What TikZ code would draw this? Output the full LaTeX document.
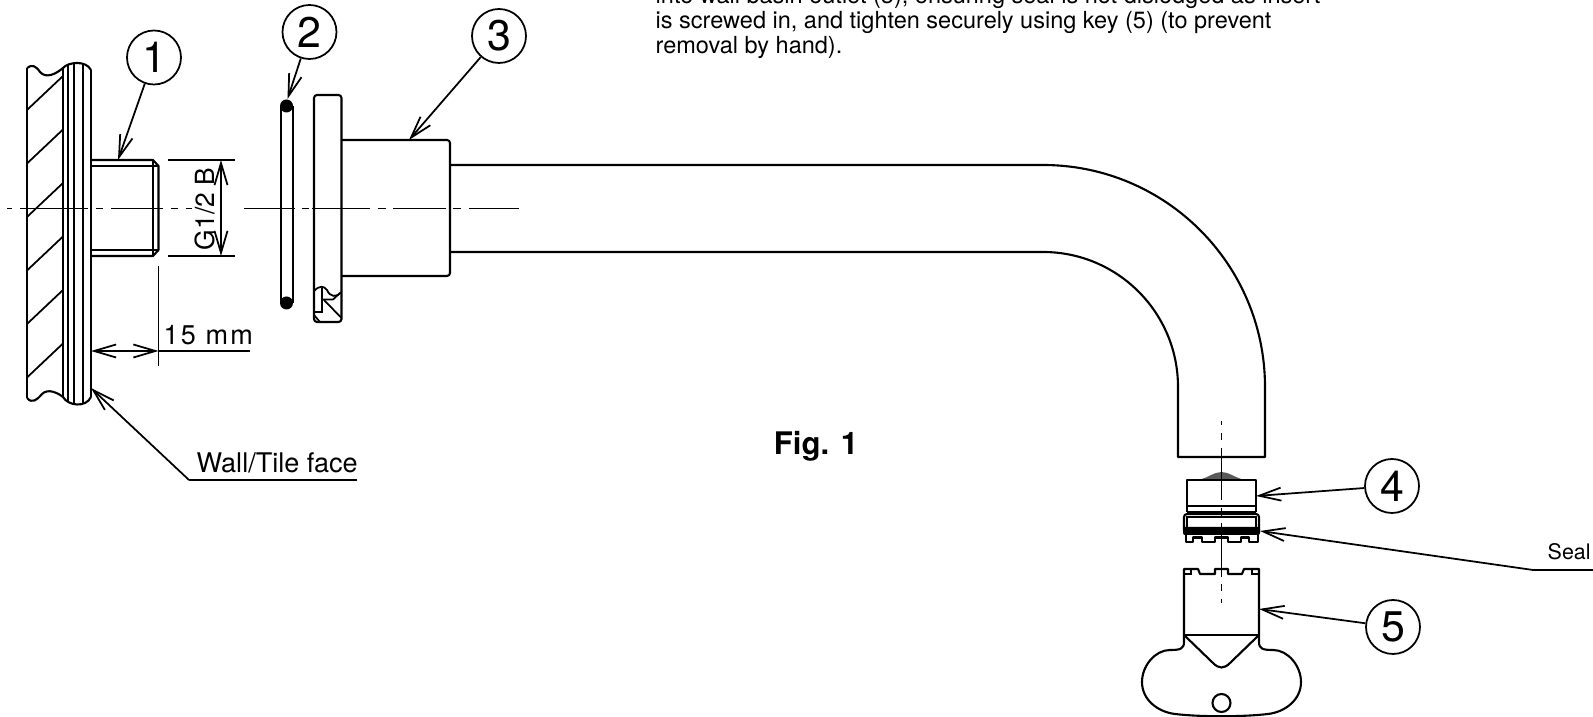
\documentclass[tikz,border=0pt]{standalone}
\usepackage{fontspec}
\setmainfont{TeX Gyre Heros}
\usetikzlibrary{arrows.meta}
\tikzset{
  part/.style={line width=0.6pt,line join=round},
  thin part/.style={line width=0.5pt},
  balloon/.style={draw,circle,line width=0.5pt,minimum size=0.54cm,inner sep=0pt,font=\fontsize{12.2}{14}\selectfont},
  leader/.style={line width=0.5pt,-{Straight Barb[length=0.22cm,width=0.13cm]}},
  dimline/.style={line width=0.5pt,{Straight Barb[length=0.22cm,width=0.13cm]}-{Straight Barb[length=0.22cm,width=0.13cm]}},
  axis/.style={line width=0.5pt},
  small label/.style={inner sep=0pt,font=\fontsize{7.7}{9}\selectfont},
  note text/.style={inner sep=0pt,anchor=base west,font=\fontsize{6.69}{8}\selectfont}
}
\begin{document}
\begin{tikzpicture}
  \useasboundingbox (0,0) rectangle (15.93,-7.17);
  % wall
  \draw[part] (0.27,-0.68) .. controls (0.32,-0.64) and (0.36,-0.66) .. (0.40,-0.72)
    .. controls (0.46,-0.79) and (0.56,-0.74) .. (0.63,-0.68)
    .. controls (0.68,-0.62) and (0.86,-0.60) .. (0.91,-0.70);
  \draw[part] (0.27,-3.98) .. controls (0.32,-4.04) and (0.37,-4.00) .. (0.42,-3.94)
    .. controls (0.48,-3.88) and (0.58,-3.93) .. (0.63,-3.97)
    .. controls (0.68,-4.06) and (0.86,-4.08) .. (0.91,-3.97);
  \draw[part] (0.27,-0.68)--(0.27,-3.98);
  \draw[part] (0.63,-0.68)--(0.63,-3.97);
  \draw[part] (0.91,-0.70)--(0.91,-3.97);
  \draw[thin part] (0.68,-0.64)--(0.68,-4.02);
  \draw[thin part] (0.74,-0.63)--(0.74,-4.04);
  \draw[thin part] (0.83,-0.63)--(0.83,-4.04);
  \foreach \y in {0,1,2,3,4,5}
    \draw[thin part] (0.27,-1.10-0.535*\y)--(0.63,-0.76-0.535*\y);
  % threaded stud
  \draw[part] (0.91,-1.60)--(1.53,-1.60)--(1.585,-1.66)--(1.585,-2.50)--(1.53,-2.56)--(0.91,-2.56);
  \draw[thin part] (0.91,-1.66)--(1.585,-1.66);
  \draw[thin part] (0.91,-2.50)--(1.585,-2.50);
  \draw[thin part] (1.53,-1.60)--(1.53,-2.56);
  % o-ring
  \draw[part] (2.81,-1.06)--(2.81,-3.03);
  \draw[part] (2.93,-1.06)--(2.93,-3.03);
  \fill (2.865,-1.06) circle (0.065);
  \fill (2.865,-3.03) circle (0.065);
  % flange and spout
  \draw[part,rounded corners=0.03cm] (3.14,-0.95)--(3.415,-0.95)--(3.415,-3.22)--(3.14,-3.22)--cycle;
  \draw[part,rounded corners=0.03cm] (3.415,-1.40)--(4.50,-1.40)--(4.50,-2.76)--(3.415,-2.76);
  \draw[part] (4.50,-1.65)--(10.43,-1.65) arc (90:0:2.22) --(12.65,-4.57)--(11.78,-4.57)--(11.78,-3.87)
    arc (0:90:1.35) --(4.50,-2.52);
  % seal in the flange
  \draw[thin part] (3.14,-2.91) .. controls (3.20,-2.85) and (3.24,-2.86) .. (3.27,-2.90)
    .. controls (3.30,-2.97) and (3.36,-2.98) .. (3.415,-2.92);
  \draw[thin part] (3.22,-2.88)--(3.22,-3.12)--(3.14,-3.12);
  \draw[thin part] (3.22,-2.995)--(3.33,-2.995)--(3.40,-2.93);
  \draw[thin part] (3.24,-3.00)--(3.415,-3.18);
  \draw[thin part] (3.14,-3.15)--(3.20,-3.22);
  % insert
  \fill[black!65] (11.98,-4.80) .. controls (12.08,-4.78) and (12.14,-4.72) .. (12.215,-4.72)
    .. controls (12.29,-4.72) and (12.35,-4.78) .. (12.45,-4.80)--cycle;
  \draw[part] (11.87,-5.06)--(11.87,-4.80)--(12.56,-4.80)--(12.56,-5.06);
  \draw[part] (11.87,-5.06)--(12.56,-5.06);
  \draw[part] (11.87,-5.12)--(12.56,-5.12);
  \draw[part] (11.87,-5.06)--(11.87,-5.12);
  \draw[part] (12.56,-5.06)--(12.56,-5.12);
  \draw[part,rounded corners=0.03cm] (11.84,-5.30)--(11.84,-5.14)--(12.59,-5.14)--(12.59,-5.30);
  \draw[thin part] (11.87,-5.28)--(11.87,-5.17)--(12.56,-5.17)--(12.56,-5.28);
  \fill[rounded corners=0.02cm] (11.83,-5.27) rectangle (12.60,-5.35);
  \draw[part] (11.86,-5.35)--(11.86,-5.42)--(11.93,-5.42)--(11.93,-5.375)--(12.02,-5.375)--(12.02,-5.42)--(12.15,-5.42)
    --(12.15,-5.375)--(12.28,-5.375)--(12.28,-5.42)--(12.41,-5.42)--(12.41,-5.375)--(12.49,-5.375)--(12.49,-5.42)
    --(12.58,-5.42)--(12.58,-5.35);
  % key
  \draw[part] (11.84,-6.35)--(11.84,-5.69)--(11.98,-5.69)--(12.00,-5.74)--(12.15,-5.74)--(12.15,-5.69)--(12.28,-5.69)
    --(12.28,-5.74)--(12.42,-5.74)--(12.44,-5.69)--(12.59,-5.69)--(12.59,-6.35);
  \draw[thin part] (11.91,-5.69)--(11.91,-5.74)--(11.84,-5.74);
  \draw[thin part] (12.52,-5.69)--(12.52,-5.74)--(12.59,-5.74);
  \draw[part] (11.84,-6.35)--(12.59,-6.35);
  \draw[part] (11.84,-6.35)--(12.13,-6.63) .. controls (12.19,-6.69) and (12.24,-6.69) .. (12.30,-6.63)--(12.59,-6.35);
  \draw[part] (11.84,-6.35)--(11.84,-6.42) .. controls (11.84,-6.49) and (11.80,-6.50) .. (11.70,-6.50)
    .. controls (11.55,-6.50) and (11.42,-6.66) .. (11.42,-6.82)
    .. controls (11.42,-7.00) and (11.58,-7.12) .. (11.75,-7.14)
    .. controls (12.00,-7.17) and (12.43,-7.17) .. (12.68,-7.14)
    .. controls (12.85,-7.12) and (13.01,-7.00) .. (13.01,-6.82)
    .. controls (13.01,-6.66) and (12.88,-6.50) .. (12.73,-6.50)
    .. controls (12.63,-6.50) and (12.59,-6.49) .. (12.59,-6.42)--(12.59,-6.35);
  \draw[part] (12.215,-7.03) circle (0.09);
  % centre lines
  \draw[axis,dash pattern=on 0.05cm off 0.08cm on 0.68cm off 0.08cm on 0.07cm off 0.08cm on 0.52cm off 0.08cm on 0.07cm off 0.08cm on 0.06cm off 1cm]
    (0.07,-2.085)--(1.92,-2.085);
  \draw[axis,dash pattern=on 0.51cm off 0.07cm on 0.07cm off 0.03cm on 0.58cm off 0.08cm on 0.08cm off 0.07cm on 0.53cm off 0.07cm on 0.08cm off 0.08cm on 0.50cm off 1cm]
    (2.44,-2.085)--(5.19,-2.085);
  \draw[axis,dash pattern=on 0.04cm off 0.08cm on 0.07cm off 0.08cm on 0.52cm off 0.08cm on 0.08cm off 0.07cm on 0.54cm off 0.07cm on 0.07cm off 0.08cm on 0.04cm off 1cm]
    (12.215,-4.21)--(12.215,-6.03);
  % balloons
  \node[balloon] (ballone) at (1.54,-0.575) {1};
  \node[balloon] (balltwo) at (3.095,-0.32) {2};
  \node[balloon] (ballthree) at (4.99,-0.36) {3};
  \node[balloon] (ballfour) at (13.92,-4.86) {4};
  \node[balloon] (ballfive) at (13.93,-6.27) {5};
  \coordinate (stud) at (1.18,-1.60);
  \coordinate (ring) at (2.875,-0.99);
  \coordinate (spout) at (4.09,-1.40);
  \coordinate (insert) at (12.56,-4.96);
  \coordinate (keyside) at (12.59,-6.09);
  \draw[leader] (ballone)--(stud);
  \draw[leader] (balltwo)--(ring);
  \draw[leader] (ballthree)--(spout);
  \draw[leader] (ballfour)--(insert);
  \draw[leader] (ballfive)--(keyside);
  % seal label
  \node[inner sep=0pt,anchor=base west,font=\fontsize{6.1}{7}\selectfont] (seallabel) at (15.47,-5.60) {Seal};
  \coordinate (sealknee) at (15.33,-5.70);
  \coordinate (sealend) at (15.93,-5.70);
  \coordinate (sealtip) at (12.60,-5.31);
  \draw[thin part] (sealend)--(sealknee);
  \draw[leader] (sealknee)--(sealtip);
  % wall label
  \node[small label,anchor=base west] (walllabel) at (1.96,-4.73) {Wall/Tile face};
  \coordinate (wallknee) at (1.89,-4.80);
  \coordinate (wallend) at (3.57,-4.80);
  \coordinate (walltip) at (0.91,-3.88);
  \draw[thin part] (wallend)--(wallknee);
  \draw[leader] (wallknee)--(walltip);
  % dimensions
  \draw[thin part] (1.68,-1.60)--(2.35,-1.60);
  \draw[thin part] (1.68,-2.56)--(2.35,-2.56);
  \coordinate (gtop) at (2.21,-1.60);
  \coordinate (gbot) at (2.21,-2.56);
  \draw[dimline] (gtop)--(gbot);
  \node[small label,rotate=90,font=\fontsize{7.5}{9}\selectfont] (gsize) at (2.05,-2.09) {G1/2 B};
  \draw[thin part] (1.585,-2.66)--(1.585,-3.66);
  \coordinate (dimleft) at (0.91,-3.51);
  \coordinate (dimright) at (1.585,-3.51);
  \draw[dimline] (dimleft)--(dimright);
  \draw[thin part] (dimright)--(2.50,-3.51);
  \node[small label,anchor=base west] (depth) at (1.63,-3.45) {\addfontfeature{LetterSpace=8}15 mm};
  % text
  \node[note text] (notetop) at (6.55,-0.04)
    {into wall basin outlet (3), ensuring seal is not dislodged as insert};
  \node[note text] (note) at (6.55,-0.29)
    {is screwed in, and tighten securely using key (5) (to prevent};
  \node[note text] (noteend) at (6.55,-0.54)
    {removal by hand).};
  \node[inner sep=0pt,font=\bfseries\fontsize{8.85}{10}\selectfont] (figlabel) at (8.16,-4.46) {Fig. 1};
\end{tikzpicture}
\end{document}
